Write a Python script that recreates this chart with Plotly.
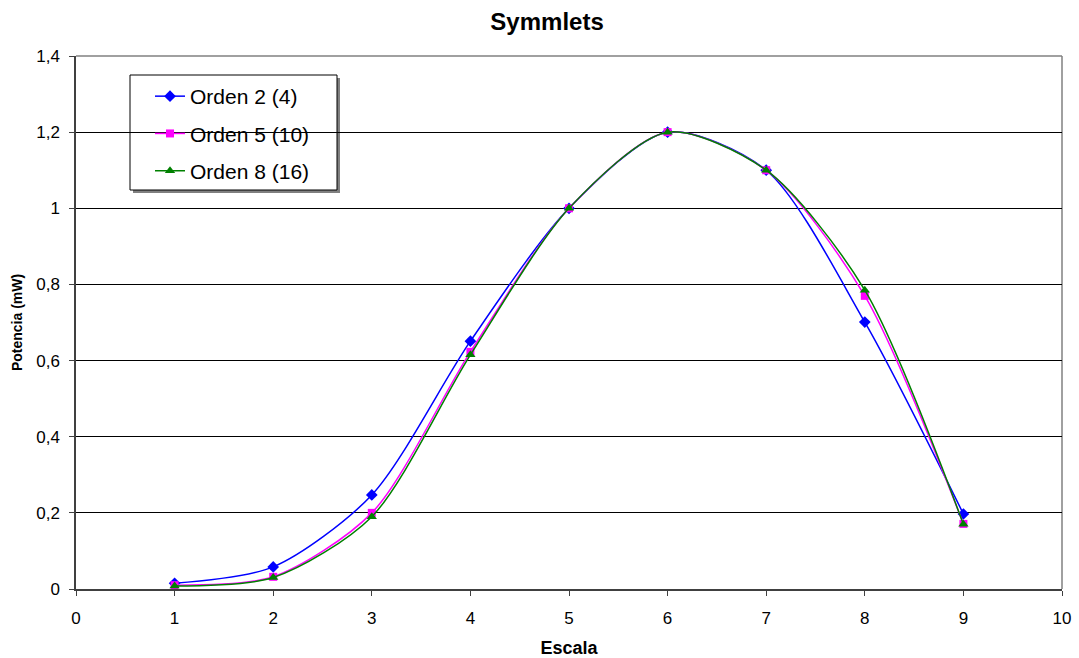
import plotly.graph_objects as go

escala = [1, 2, 3, 4, 5, 6, 7, 8, 9]
orden2 = [0.015, 0.058, 0.247, 0.651, 1.0, 1.2, 1.1, 0.701, 0.197]
orden5 = [0.010, 0.032, 0.200, 0.623, 1.0, 1.2, 1.1, 0.770, 0.171]
orden8 = [0.008, 0.030, 0.190, 0.615, 1.0, 1.2, 1.1, 0.785, 0.170]

series = [
    ("Orden 2 (4)", orden2, "#0000FF", "diamond", 9),
    ("Orden 5 (10)", orden5, "#FF00FF", "square", 8),
    ("Orden 8 (16)", orden8, "#008000", "triangle-up", 9),
]

fig = go.Figure()
for i, (name, vals, color, sym, size) in enumerate(series):
    fig.add_trace(go.Scatter(
        x=escala, y=vals, name=name, mode="lines+markers",
        line=dict(color=color, width=1.5, shape="spline", smoothing=0.8),
        marker=dict(symbol=sym, size=size, color=color),
        legendgroup=f"g{i}",
    ))

font = "Liberation Sans, Arial, sans-serif"
W, H = 1079, 658
L, R, T, B = 76, 1062, 56, 589


def px(x):
    return (x - L) / (R - L)


def py(y):
    return (B - y) / (B - T)


fig.update_layout(
    width=W, height=H,
    margin=dict(l=L, r=W - R, t=T, b=H - B, autoexpand=False),
    paper_bgcolor="white", plot_bgcolor="rgba(0,0,0,0)",
    separators=",.",
    font=dict(family=font, size=17, color="black"),
    title=dict(text="<b>Symmlets</b>", x=0.507, xref="container", xanchor="center",
               y=1 - 22 / H, yref="container", yanchor="middle",
               font=dict(size=24, family=font)),
    xaxis=dict(range=[0, 10], dtick=1, tick0=0, showgrid=False, zeroline=False,
               showline=True, linecolor="#404040", linewidth=1.5, automargin=False,
               ticks="outside", ticklen=5, tickcolor="#404040", ticklabelstandoff=8,
               title=dict(text="<b>Escala</b>", font=dict(size=18), standoff=14)),
    yaxis=dict(range=[0, 1.4], dtick=0.2, tick0=0, showgrid=True, gridcolor="black",
               gridwidth=1, zeroline=False, automargin=False,
               showline=True, linecolor="#404040", linewidth=1.5,
               ticks="outside", ticklen=5, tickcolor="#404040", ticklabelstandoff=6,
               title=dict(text="<b>Potencia (mW)</b>", font=dict(size=14), standoff=10)),
    legend=dict(x=px(150), y=py(76), xanchor="left", yanchor="top",
                bgcolor="rgba(0,0,0,0)", borderwidth=0,
                font=dict(size=21, family=font), tracegroupgap=7,
                traceorder="grouped", itemwidth=30),
    showlegend=True,
)

# plot-area frame (top and right edges in grey)
fig.add_shape(type="line", xref="paper", yref="paper", x0=0, x1=1, y0=1, y1=1,
              line=dict(color="#808080", width=1.5), layer="below")
fig.add_shape(type="line", xref="paper", yref="paper", x0=1, x1=1, y0=0, y1=1,
              line=dict(color="#808080", width=1.5), layer="below")

# legend box with drop shadow
fig.add_shape(type="rect", xref="paper", yref="paper",
              x0=px(133), x1=px(340), y0=py(193), y1=py(78),
              line=dict(width=0), fillcolor="#808080", layer="between")
fig.add_shape(type="rect", xref="paper", yref="paper",
              x0=px(130), x1=px(337), y0=py(190), y1=py(75),
              line=dict(width=1, color="black"), fillcolor="white", layer="between")

fig.write_html("out.html")
